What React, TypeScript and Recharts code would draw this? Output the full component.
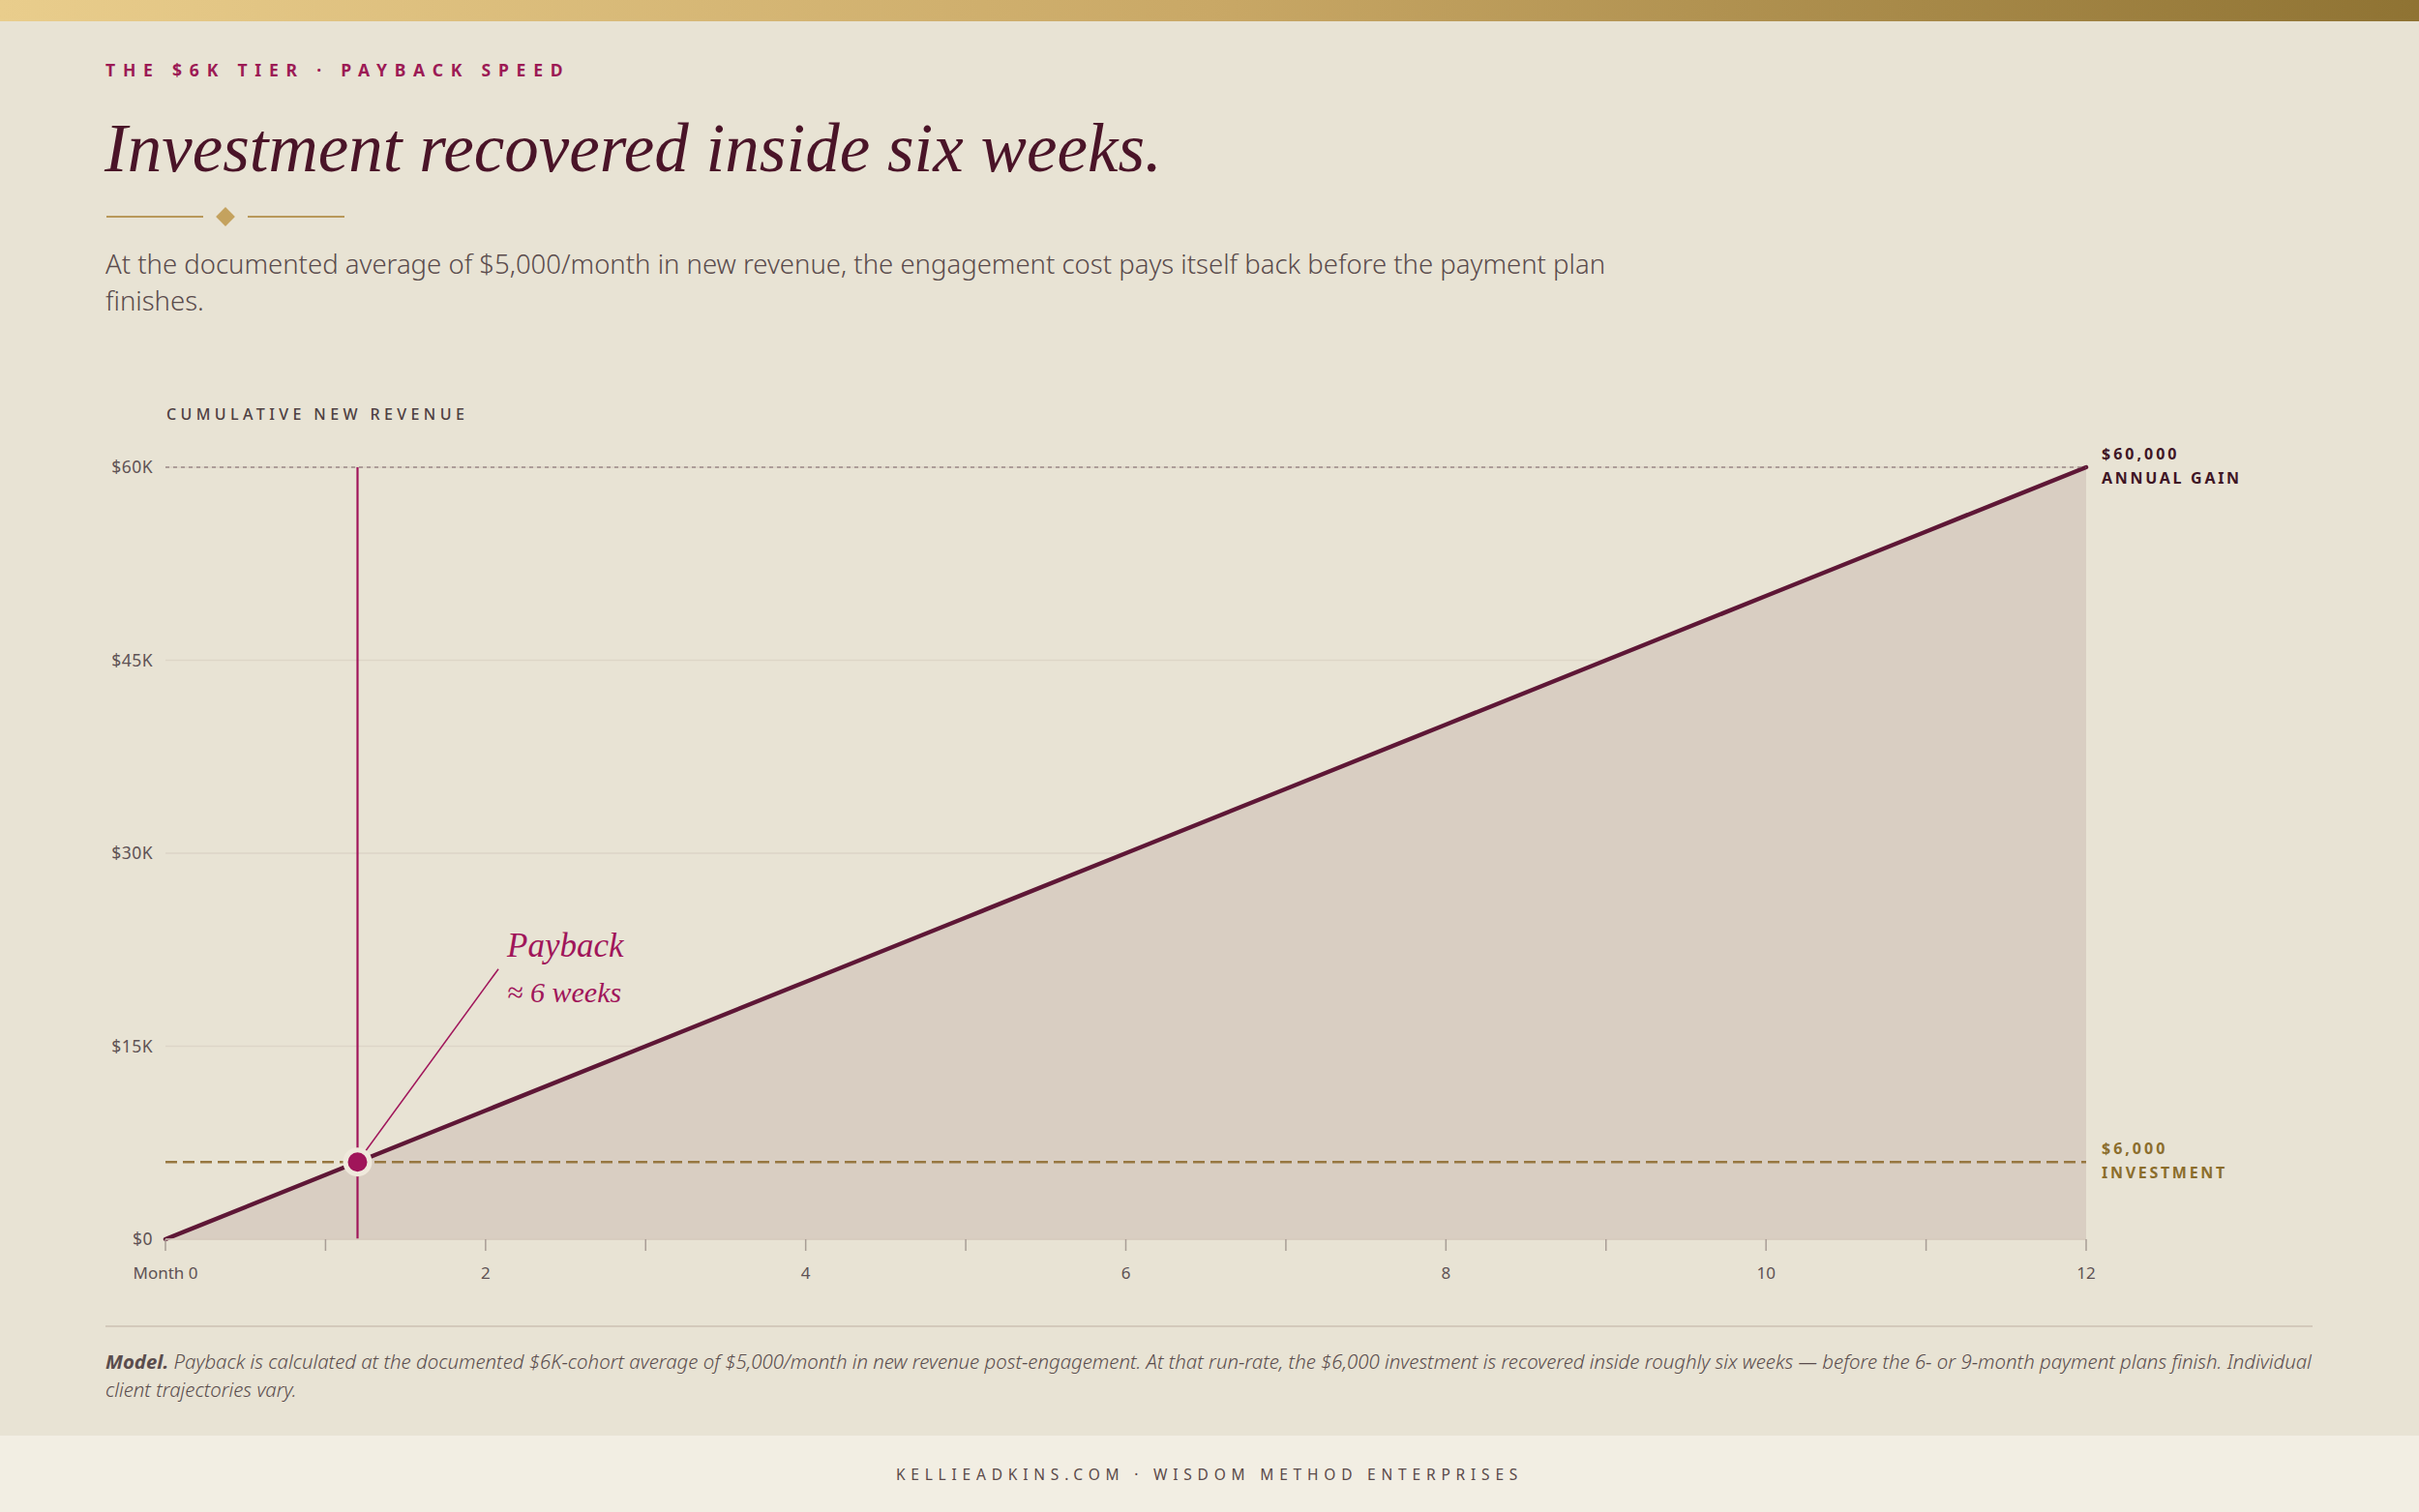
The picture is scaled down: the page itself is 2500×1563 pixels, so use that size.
import React from 'react';
import {
  ComposedChart, Area, XAxis, YAxis, CartesianGrid,
  ReferenceLine, ReferenceDot
} from 'recharts';

// chart data
const months = [0, 1, 2, 3, 4, 5, 6, 7, 8, 9, 10, 11, 12];
const cumulativeRevenue = [0, 5000, 10000, 15000, 20000, 25000, 30000, 35000, 40000, 45000, 50000, 55000, 60000];
const yTicks = [0, 15000, 30000, 45000, 60000];
const yTickLabels = ['$0', '$15K', '$30K', '$45K', '$60K'];
const xLabelMonths = [0, 2, 4, 6, 8, 10, 12];
const xLabels = ['Month 0', '2', '4', '6', '8', '10', '12'];

const investment = 6000;
const annualGain = 60000;
const paybackMonth = 1.2;
const calloutMonth = 2.08;
const calloutValue = 21000;

const SANS = '"Noto Sans", "Open Sans", sans-serif';
const SERIF = '"Liberation Serif", "Times New Roman", serif';

const BG = '#E8E3D4';
const WINE = '#5E1736';
const MAGENTA = '#A0155A';
const GOLD = '#977740';

const data = months.map((m, i) => ({ month: m, revenue: cumulativeRevenue[i] }));

const XTick = (props: any) => {
  const { x, y, payload } = props;
  const idx = xLabelMonths.indexOf(payload.value);
  if (idx < 0) return null;
  return (
    <text x={x} y={y} dy="0.71em" textAnchor="middle" fontFamily={SANS} fontSize={17} fill="#5E5254">
      {xLabels[idx]}
    </text>
  );
};

const SideLabel = (props: any) => {
  const { viewBox, top, bottom, color } = props;
  if (!viewBox) return null;
  const x = viewBox.x + viewBox.width + 16;
  const y = viewBox.y;
  return (
    <g fontFamily={SANS} fontWeight={700} fontSize={16} fill={color}>
      <text x={x} y={y - 8} letterSpacing={3}>{top}</text>
      <text x={x} y={y + 17} letterSpacing={2.7}>{bottom}</text>
    </g>
  );
};

const Callout = (props: any) => {
  const { cx, cy } = props;
  return (
    <g fontFamily={SERIF} fontStyle="italic" fill={MAGENTA}>
      <text x={cx + 9} y={cy - 13} fontSize={35}>Payback</text>
      <text x={cx + 9} y={cy + 34} fontSize={30}>≈ 6 weeks</text>
    </g>
  );
};

export default function App() {
  return (
    <div style={{ position: 'absolute', left: 0, top: 0, width: 2500, height: 1563, background: BG, overflow: 'hidden', fontFamily: SANS }}>
      {/* top bar */}
      <div style={{ position: 'absolute', left: 0, top: 0, width: 2500, height: 22, background: 'linear-gradient(90deg, #E9CD8C 0%, #C9A866 50%, #8F7333 100%)' }} />

      <div style={{ position: 'absolute', left: 109, top: 64, fontSize: 17.5, lineHeight: '17px', fontWeight: 700, letterSpacing: 7.8, color: '#9C1A55', whiteSpace: 'nowrap' }}>
        THE $6K TIER · PAYBACK SPEED
      </div>

      <div style={{ position: 'absolute', left: 108, top: 118, fontFamily: SERIF, fontStyle: 'italic', fontSize: 71, lineHeight: '70px', color: '#4A1428', whiteSpace: 'nowrap' }}>
        Investment recovered inside six weeks.
      </div>

      {/* ornament */}
      <div style={{ position: 'absolute', left: 110, top: 223, width: 100, height: 2, background: '#B9995A' }} />
      <div style={{ position: 'absolute', left: 256, top: 223, width: 100, height: 2, background: '#B9995A' }} />
      <div style={{ position: 'absolute', left: 226, top: 217, width: 14, height: 14, background: '#C4A25E', transform: 'rotate(45deg)' }} />

      <div style={{ position: 'absolute', left: 109, top: 254, fontSize: 27.5, lineHeight: '38px', fontWeight: 300, color: '#5A4B4C', whiteSpace: 'nowrap' }}>
        At the documented average of $5,000/month in new revenue, the engagement cost pays itself back before the payment plan<br />finishes.
      </div>

      <div style={{ position: 'absolute', left: 172, top: 420, fontSize: 16, lineHeight: '16px', fontWeight: 500, letterSpacing: 4.4, color: '#4E4042', whiteSpace: 'nowrap' }}>
        CUMULATIVE NEW REVENUE
      </div>

      <div style={{ position: 'absolute', left: 0, top: 440 }}>
        <ComposedChart width={2500} height={900} data={data} margin={{ top: 43, right: 344, bottom: 19, left: 0 }}>
          <CartesianGrid horizontal vertical={false} stroke="#DDD5C7" strokeWidth={1.5} />
          <XAxis
            dataKey="month"
            type="number"
            domain={[0, 12]}
            ticks={months}
            interval={0}
            height={40}
            tickSize={12}
            tickMargin={16.5}
            tick={<XTick />}
            axisLine={{ stroke: '#D6CABD', strokeWidth: 1.5 }}
            tickLine={{ stroke: '#A99E96', strokeWidth: 1.5 }}
          />
          <YAxis
            type="number"
            domain={[0, 60000]}
            ticks={yTicks}
            width={171}
            axisLine={false}
            tickLine={false}
            tickSize={0}
            tickMargin={13}
            tick={{ fontFamily: SANS, fontSize: 17.5, fill: '#5E5254', letterSpacing: 0.5 }}
            tickFormatter={(v: number) => yTickLabels[yTicks.indexOf(v)]}
          />
          <Area
            type="linear"
            dataKey="revenue"
            stroke={WINE}
            strokeWidth={4.5}
            strokeLinecap="round"
            fill="#D9CEC2"
            fillOpacity={1}
            dot={false}
            activeDot={false}
            isAnimationActive={false}
          />
          <ReferenceLine
            y={annualGain}
            stroke="#7A6267"
            strokeWidth={1.2}
            strokeDasharray="4 4"
            label={(p: any) => <SideLabel {...p} top="$60,000" bottom="ANNUAL GAIN" color="#3E1525" />}
          />
          <ReferenceLine
            y={investment}
            stroke={GOLD}
            strokeWidth={2.5}
            strokeDasharray="12 6"
            label={(p: any) => <SideLabel {...p} top="$6,000" bottom="INVESTMENT" color="#8B6D2C" />}
          />
          <ReferenceLine x={paybackMonth} stroke={MAGENTA} strokeWidth={2.2} />
          <ReferenceLine
            segment={[{ x: paybackMonth, y: investment }, { x: calloutMonth, y: calloutValue }]}
            stroke={MAGENTA}
            strokeWidth={1.5}
          />
          <ReferenceDot x={calloutMonth} y={calloutValue} r={0} shape={(p: any) => <Callout {...p} />} />
          <ReferenceDot x={paybackMonth} y={investment} r={12.5} fill={MAGENTA} stroke="#EFE9DC" strokeWidth={5} />
        </ComposedChart>
      </div>

      {/* footnote */}
      <div style={{ position: 'absolute', left: 109, top: 1370, width: 2281, height: 2, background: '#D3C9BB' }} />
      <div style={{ position: 'absolute', left: 109, top: 1393, fontSize: 20.4, lineHeight: '29px', fontStyle: 'italic', fontWeight: 300, color: '#5A4D4D', whiteSpace: 'nowrap' }}>
        <b style={{ fontWeight: 700 }}>Model.</b> Payback is calculated at the documented $6K-cohort average of $5,000/month in new revenue post-engagement. At that run-rate, the $6,000 investment is recovered inside roughly six weeks — before the 6- or 9-month payment plans finish. Individual<br />client trajectories vary.
      </div>

      {/* footer */}
      <div style={{ position: 'absolute', left: 0, top: 1484, width: 2500, height: 79, background: '#F2EEE3', display: 'flex', alignItems: 'center', justifyContent: 'center' }}>
        <span style={{ fontSize: 15.5, letterSpacing: 5.8, color: '#5A4A4A', whiteSpace: 'nowrap' }}>KELLIEADKINS.COM · WISDOM METHOD ENTERPRISES</span>
      </div>
    </div>
  );
}
